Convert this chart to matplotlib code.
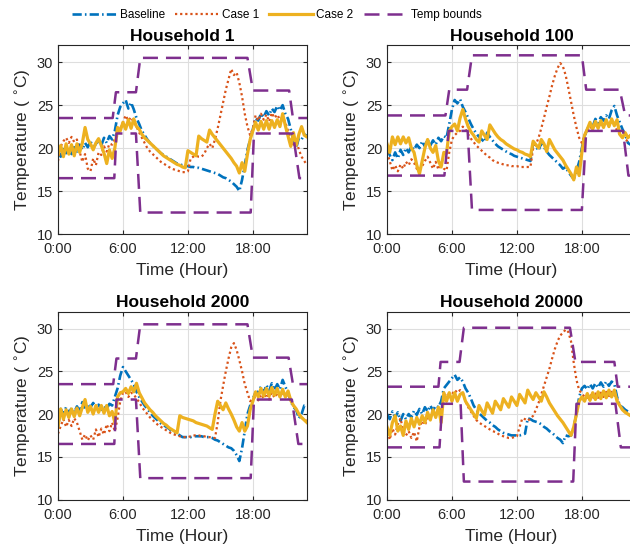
import numpy as np
import matplotlib
matplotlib.use("Agg")
import matplotlib.pyplot as plt

plt.rcParams['font.family'] = ['Liberation Sans', 'DejaVu Sans']

# ------------------------------------------------------------
# data: indoor temperature, one value every 15 min (0:00 .. 23:00)
# ------------------------------------------------------------
HOURS = np.arange(93) * 0.25
TITLES = ["Household 1", "Household 100", "Household 2000", "Household 20000"]
SERIES_NAMES = ["Baseline", "Case 1", "Case 2", "Temp bounds"]
XTICKS = [0, 6, 12, 18]
XTICK_LABELS = ["0:00", "6:00", "12:00", "18:00"]
YTICKS = [10, 15, 20, 25, 30]

# Household 1
P1_BASE = [19.5, 19.0, 20.2, 19.4, 20.0, 19.3, 20.1, 19.6, 20.4, 19.8, 20.6, 20.1,
           20.8, 20.0, 20.5, 20.9, 20.3, 21.2, 20.6, 21.4, 21.0, 22.0, 23.8, 24.8,
           25.2, 25.6, 24.6, 25.3, 24.5, 23.5, 22.8, 22.0, 21.5, 21.0, 20.6, 20.3,
           20.0, 19.7, 19.4, 19.2, 19.0, 18.8, 18.6, 18.4, 18.2, 18.1, 18.0, 17.9,
           17.9, 17.8, 17.8, 17.7, 17.7, 17.6, 17.5, 17.4, 17.3, 17.2, 17.1, 17.0,
           16.8, 16.6, 16.5, 16.3, 16.1, 15.8, 15.5, 15.0, 16.3, 18.0, 19.8, 21.0,
           22.2, 23.5, 23.2, 24.0, 23.6, 24.3, 23.8, 24.6, 24.2, 24.9, 24.4, 25.0,
           24.0, 23.4, 22.2, 20.8, 20.0, 21.2, 21.0, 21.6, 21.4]
P1_C1 = [18.5, 20.2, 20.8, 21.2, 20.6, 21.3, 20.7, 21.0, 19.6, 18.4, 19.3, 17.6,
         17.3, 18.8, 18.0, 19.5, 19.2, 20.2, 19.6, 20.5, 20.4, 21.0, 21.5, 22.3,
         23.0, 23.8, 23.2, 23.6, 23.0, 22.5, 21.8, 21.2, 20.6, 20.0, 19.6, 19.3,
         19.0, 18.7, 18.4, 18.2, 18.0, 17.8, 17.6, 17.5, 17.4, 17.3, 17.2, 17.2,
         17.3, 18.8, 19.0, 19.1, 19.0, 19.0, 19.3, 20.0, 20.5, 20.0, 21.0, 22.3,
         23.8, 25.3, 26.8, 28.0, 29.2, 28.5, 28.8, 27.6, 26.0, 24.0, 22.5, 21.5,
         22.3, 23.8, 23.2, 24.0, 23.3, 23.9, 23.1, 24.1, 23.5, 23.9, 23.3, 23.6,
         23.0, 22.0, 21.0, 20.4, 21.0, 19.8, 19.0, 18.5, 18.0]
P1_C2 = [19.2, 20.3, 19.0, 20.5, 19.3, 20.4, 19.1, 20.5, 19.5, 20.6, 22.4, 21.0,
         20.5, 19.8, 20.6, 21.1, 20.3, 19.4, 18.2, 19.8, 18.8, 20.0, 22.4, 22.0,
         23.0, 22.2, 23.3, 22.3, 23.4, 22.5, 22.2, 21.6, 21.2, 20.9, 20.6, 20.3,
         20.0, 19.7, 19.4, 19.1, 18.9, 18.7, 18.5, 18.3, 18.1, 18.0, 17.8, 17.7,
         19.7, 19.5, 19.3, 19.1, 21.4, 21.1, 20.9, 20.7, 22.1, 21.6, 21.2, 20.8,
         20.4, 20.0, 19.6, 19.2, 18.8, 18.3, 17.9, 17.1, 18.3, 17.3, 19.3, 21.0,
         22.0, 23.0, 22.1, 23.1, 22.2, 23.2, 22.2, 23.2, 22.4, 23.3, 22.5, 24.0,
         22.6, 21.4, 20.2, 21.8, 20.3, 21.6, 22.5, 21.5, 21.3]
P1_UB_T = [0, 5.05, 5.35, 7.2, 7.6, 17.5, 18.0, 21.35, 21.7, 23]
P1_UB_V = [23.5, 23.5, 26.5, 26.5, 30.5, 30.5, 26.7, 26.7, 23.5, 23.5]
P1_LB_T = [0, 5.2, 5.4, 7.2, 7.6, 17.8, 18.1, 21.7, 22.3, 23]
P1_LB_V = [16.5, 16.5, 21.7, 21.7, 12.5, 12.5, 21.7, 21.7, 16.5, 16.5]

# Household 100
P2_BASE = [20.0, 19.2, 18.6, 19.5, 18.8, 19.8, 19.2, 20.0, 19.5, 20.2, 19.8, 20.4,
           20.0, 20.8, 20.2, 21.0, 20.3, 20.9, 20.4, 21.2, 20.8, 21.4, 21.2, 22.8,
           24.5, 25.6, 25.2, 25.7, 24.8, 24.2, 23.5, 22.8, 22.2, 21.7, 21.3, 21.0,
           20.7, 21.8, 21.3, 20.9, 20.5, 20.2, 20.0, 19.8, 19.6, 19.4, 19.3, 19.1,
           19.0, 18.9, 18.8, 18.7, 18.6, 18.5, 20.6, 20.2, 19.7, 20.6, 20.1, 19.6,
           19.2, 18.9, 18.6, 18.3, 18.0, 17.6, 17.8, 17.2, 16.8, 16.4, 17.3, 18.4,
           20.0, 21.4, 22.2, 22.8, 22.5, 23.4, 22.9, 23.6, 23.2, 23.8, 23.4, 24.4,
           24.9, 23.8, 23.0, 22.2, 21.6, 20.6, 20.4, 20.2, 20.0]
P2_C1 = [19.5, 18.5, 17.4, 18.0, 17.3, 18.1, 17.6, 18.4, 18.0, 18.7, 18.3, 17.6,
         17.4, 17.9, 18.5, 19.0, 18.3, 17.6, 18.4, 17.5, 18.2, 17.6, 17.4, 19.5,
         21.0, 21.5, 21.8, 22.0, 22.5, 22.2, 21.6, 21.1, 20.7, 20.3, 20.0, 19.7,
         19.4, 19.1, 18.9, 18.6, 18.4, 18.3, 18.2, 18.1, 18.0, 18.0, 17.9, 17.9,
         17.9, 17.8, 17.8, 17.8, 17.8, 17.8, 20.0, 20.4, 21.2, 22.3, 23.5, 24.8,
         26.0, 27.3, 28.4, 29.3, 29.9, 29.5, 28.5, 27.0, 25.4, 23.8, 22.4, 21.2,
         20.6, 21.5, 22.0, 22.5, 22.2, 22.8, 22.4, 22.9, 22.5, 23.0, 22.6, 23.1,
         22.8, 22.0, 21.6, 21.3, 21.0, 20.8, 20.7, 20.5, 20.3]
P2_C2 = [20.5, 19.5, 21.3, 20.4, 21.3, 20.5, 21.3, 20.6, 21.2, 20.0, 19.5, 18.0,
         17.0, 18.5, 20.0, 21.0, 20.0, 19.5, 20.3, 18.5, 17.8, 19.5, 19.4, 22.0,
         22.5, 22.8, 22.0, 23.5, 24.5, 23.4, 22.5, 21.9, 21.5, 21.0, 20.7, 22.0,
         21.5, 21.0, 22.7, 22.2, 21.7, 21.3, 21.0, 20.8, 20.5, 20.3, 20.1, 19.9,
         19.8, 19.6, 19.5, 19.3, 19.2, 19.0, 20.8, 20.4, 20.0, 21.0, 20.5, 19.6,
         21.0, 20.4, 19.8, 19.4, 19.0, 18.6, 18.0, 17.5, 17.0, 16.3, 17.8, 16.8,
         19.5, 21.5, 22.2, 23.0, 22.2, 23.1, 22.3, 23.2, 22.4, 23.3, 22.5, 23.4,
         22.6, 23.3, 21.6, 21.2, 21.8, 21.2, 21.5, 21.0, 21.2]
P2_UB_T = [0, 5.4, 5.75, 7.4, 7.85, 18.0, 18.4, 21.5, 22.0, 23]
P2_UB_V = [23.8, 23.8, 26.8, 26.8, 30.8, 30.8, 26.8, 26.8, 23.8, 23.8]
P2_LB_T = [0, 5.3, 5.7, 7.45, 7.85, 18.0, 18.4, 21.8, 22.3, 23]
P2_LB_V = [16.8, 16.8, 22.0, 22.0, 12.8, 12.8, 22.0, 22.0, 16.8, 16.8]

# Household 2000
P3_BASE = [18.5, 20.6, 20.0, 20.8, 20.1, 20.7, 20.2, 20.9, 20.3, 21.4, 20.6, 21.2,
           20.8, 21.3, 20.7, 21.1, 20.5, 21.0, 20.6, 21.2, 21.0, 22.0, 23.0, 24.5,
           25.5, 25.0, 24.5, 24.0, 23.5, 22.6, 22.0, 21.5, 21.0, 20.6, 20.2, 19.8,
           19.5, 19.2, 18.9, 18.7, 18.5, 18.3, 18.0, 17.9, 17.7, 17.5, 17.3, 17.3,
           17.3, 17.3, 17.4, 17.4, 17.4, 17.4, 17.3, 17.3, 17.3, 17.2, 17.0, 16.9,
           16.7, 16.5, 16.3, 16.1, 16.0, 15.7, 15.2, 14.5, 16.0, 18.0, 20.0, 21.0,
           21.8, 22.5, 22.6, 23.2, 22.5, 23.4, 22.7, 23.6, 22.8, 23.5, 22.9, 24.0,
           23.2, 22.5, 21.5, 20.8, 20.5, 19.5, 20.0, 21.0, 21.0]
P3_C1 = [17.7, 18.6, 19.4, 18.5, 19.3, 18.6, 19.5, 19.0, 18.0, 17.0, 17.6, 16.9,
         17.5, 17.0, 18.2, 17.3, 18.3, 17.6, 18.8, 18.0, 19.0, 18.0, 19.5, 21.5,
         22.5, 22.6, 22.0, 22.5, 22.3, 21.8, 21.4, 20.8, 20.4, 20.0, 19.6, 19.3,
         19.0, 18.7, 18.5, 18.3, 18.1, 17.9, 17.7, 17.6, 17.5, 17.4, 17.3, 17.3,
         17.3, 17.4, 17.5, 17.5, 17.5, 17.4, 17.4, 17.3, 17.3, 17.2, 17.2, 19.0,
         21.5, 23.3, 25.0, 26.5, 27.8, 28.3, 27.5, 26.3, 25.0, 23.5, 22.5, 21.5,
         21.8, 22.0, 21.6, 22.3, 21.8, 22.4, 21.7, 22.5, 21.9, 22.5, 22.0, 22.6,
         22.0, 22.3, 21.8, 21.0, 20.5, 20.0, 19.6, 19.3, 19.2]
P3_C2 = [18.5, 20.6, 19.4, 20.5, 19.6, 20.6, 19.7, 20.7, 19.8, 20.8, 21.7, 20.2,
         20.9, 20.0, 21.0, 20.2, 21.0, 20.1, 21.0, 19.8, 20.3, 19.0, 22.0, 22.5,
         22.6, 23.0, 22.4, 23.2, 22.6, 23.6, 22.5, 21.9, 21.3, 20.9, 20.5, 20.2,
         19.8, 19.5, 19.2, 18.9, 18.7, 18.4, 18.2, 18.0, 17.8, 19.8, 19.6, 19.5,
         19.4, 19.3, 19.2, 19.0, 18.9, 18.8, 18.7, 18.6, 18.4, 18.2, 20.0, 21.5,
         21.0, 20.5, 21.3, 20.6, 20.0, 19.3, 18.5, 18.0, 19.0, 18.0, 18.6, 20.5,
         21.5, 22.6, 22.0, 23.0, 22.1, 23.0, 22.1, 23.1, 22.2, 23.0, 22.0, 22.9,
         22.0, 22.7, 21.6, 21.0, 20.6, 20.0, 19.6, 19.3, 19.0]
P3_UB_T = [0, 5.1, 5.4, 7.2, 7.6, 17.5, 18.0, 21.3, 21.7, 23]
P3_UB_V = [23.5, 23.5, 26.5, 26.5, 30.5, 30.5, 26.6, 26.6, 23.5, 23.5]
P3_LB_T = [0, 5.2, 5.4, 7.2, 7.6, 17.8, 18.1, 21.6, 22.2, 23]
P3_LB_V = [16.5, 16.5, 21.7, 21.7, 12.5, 12.5, 21.7, 21.7, 16.5, 16.5]

# Household 20000
P4_BASE = [20.0, 19.4, 20.3, 19.6, 20.2, 19.2, 20.0, 19.4, 20.0, 19.6, 20.4, 19.9,
           20.6, 20.0, 20.8, 20.3, 21.0, 20.4, 21.0, 20.8, 21.5, 23.0, 23.4, 23.8,
           24.2, 24.6, 24.0, 24.3, 23.8, 23.0, 22.5, 21.8, 21.0, 20.5, 20.1, 19.8,
           19.5, 19.2, 19.0, 18.7, 18.5, 18.2, 18.0, 17.8, 17.7, 17.6, 17.5, 17.5,
           17.5, 17.5, 17.6, 17.7, 19.5, 19.4, 19.2, 19.1, 19.0, 18.8, 18.5, 18.3,
           18.0, 17.8, 17.5, 17.2, 17.0, 16.6, 17.5, 17.4, 17.5, 18.5, 20.0, 22.0,
           23.0, 23.3, 22.9, 23.5, 23.0, 23.6, 23.1, 23.7, 23.2, 23.8, 23.3, 23.8,
           23.5, 22.0, 21.0, 20.8, 20.5, 20.3, 20.2, 20.0, 20.0]
P4_C1 = [18.5, 17.0, 18.3, 17.6, 18.8, 19.5, 18.0, 17.5, 18.0, 17.2, 17.9, 16.8,
         18.5, 19.2, 18.7, 19.5, 19.6, 20.4, 19.8, 20.5, 20.5, 22.0, 22.5, 22.3,
         22.3, 22.8, 22.5, 22.8, 22.5, 21.5, 20.8, 20.3, 19.8, 19.3, 19.0, 18.8,
         18.6, 18.4, 18.2, 18.0, 17.9, 17.7, 17.5, 17.4, 17.3, 17.2, 17.2, 17.3,
         17.4, 18.5, 19.5, 19.4, 19.2, 19.5, 19.8, 20.5, 21.3, 22.3, 23.3, 24.3,
         25.3, 26.5, 27.6, 28.5, 29.2, 29.5, 29.9, 29.6, 28.5, 26.0, 24.0, 22.8,
         22.4, 22.0, 21.9, 22.3, 21.8, 22.4, 21.9, 22.5, 22.0, 22.6, 22.1, 22.6,
         22.2, 21.8, 21.0, 20.5, 20.3, 20.0, 19.8, 19.6, 19.5]
P4_C2 = [18.5, 17.5, 19.0, 19.8, 18.0, 18.6, 17.5, 19.2, 18.2, 19.5, 18.5, 19.6,
         18.8, 19.8, 19.0, 20.2, 19.3, 20.5, 19.6, 20.8, 19.0, 22.5, 21.5, 22.5,
         21.5, 22.5, 21.5, 22.3, 22.5, 21.5, 21.0, 20.5, 20.0, 19.5, 21.0, 20.4,
         19.9, 21.3, 20.7, 20.1, 21.5, 21.0, 20.5, 21.8, 21.3, 20.8, 22.0, 21.5,
         21.0, 22.3, 21.8, 21.3, 22.8, 22.2, 21.7, 22.5, 22.0, 21.5, 22.6, 22.0,
         21.3, 20.8, 20.3, 19.8, 19.4, 19.0, 18.5, 18.0, 17.5, 18.5, 20.0, 21.5,
         22.0, 21.5, 22.4, 21.6, 22.5, 21.7, 22.6, 21.8, 22.7, 21.9, 22.8, 22.0,
         22.8, 21.5, 21.0, 20.5, 20.2, 20.0, 19.8, 19.6, 19.5]
P4_UB_T = [0, 4.75, 4.95, 6.7, 7.1, 16.9, 17.4, 21.0, 21.3, 23]
P4_UB_V = [23.2, 23.2, 26.1, 26.1, 30.1, 30.1, 26.1, 26.1, 23.2, 23.2]
P4_LB_T = [0, 4.85, 5.1, 6.8, 7.1, 17.2, 17.5, 21.1, 21.6, 23]
P4_LB_V = [16.1, 16.1, 21.2, 21.2, 12.1, 12.1, 21.2, 21.2, 16.1, 16.1]

PANELS = [
    (P1_BASE, P1_C1, P1_C2, P1_UB_T, P1_UB_V, P1_LB_T, P1_LB_V),
    (P2_BASE, P2_C1, P2_C2, P2_UB_T, P2_UB_V, P2_LB_T, P2_LB_V),
    (P3_BASE, P3_C1, P3_C2, P3_UB_T, P3_UB_V, P3_LB_T, P3_LB_V),
    (P4_BASE, P4_C1, P4_C2, P4_UB_T, P4_UB_V, P4_LB_T, P4_LB_V),
]

# MATLAB default colours
C_BLUE, C_RED, C_YEL, C_PUR = "#0072BD", "#D95319", "#EDB120", "#7E2F8E"
INK = "#262626"

# ------------------------------------------------------------
# layout (pixels in a 630x550 canvas -> figure fractions)
# ------------------------------------------------------------
W, H = 630, 550
BOXES = [(58, 45, 249, 189), (387, 45, 249, 189),
         (58, 311.5, 249, 188), (387, 311.5, 249, 188)]

fig = plt.figure(figsize=(W / 100, H / 100), dpi=100)

handles = None
for k, (left, top, w, h) in enumerate(BOXES):
    ax = fig.add_axes([left / W, 1 - (top + h) / H, w / W, h / H])
    base, c1, c2, ub_t, ub_v, lb_t, lb_v = PANELS[k]

    l1, = ax.plot(HOURS, base, color=C_BLUE, lw=1.9, dashes=(3.5, 1.2, 0.6, 1.2))
    l2, = ax.plot(HOURS, c1, color=C_RED, lw=1.6, dashes=(1.0, 1.3))
    l3, = ax.plot(HOURS, c2, color=C_YEL, lw=2.3)
    l4, = ax.plot(ub_t, ub_v, color=C_PUR, lw=1.8, dashes=(6, 3.2))
    ax.plot(lb_t, lb_v, color=C_PUR, lw=1.8, dashes=(6, 3.2))
    if handles is None:
        handles = [l1, l2, l3, l4]

    ax.set_xlim(0, 23)
    ax.set_ylim(10, 32)
    ax.set_xticks(XTICKS)
    ax.set_xticklabels(XTICK_LABELS)
    ax.set_yticks(YTICKS)
    ax.grid(True, color="#dedede", lw=0.8)
    ax.set_axisbelow(True)
    ax.tick_params(direction="in", length=3, top=True, right=True,
                   labelsize=10.5, colors=INK)
    ax.tick_params(axis="x", pad=6)
    ax.tick_params(axis="y", pad=3.5)
    for sp in ax.spines.values():
        sp.set_color(INK)
        sp.set_linewidth(0.8)
    ax.set_title(TITLES[k], fontsize=12.5, fontweight="bold", pad=3, color="black")
    ax.set_xlabel("Time (Hour)", fontsize=12.5, color=INK, labelpad=5)
    ax.set_ylabel("Temperature ( $^{\\circ}$C)", fontsize=12.5, color=INK, labelpad=3)

fig.legend(handles, SERIES_NAMES, loc="center", bbox_to_anchor=(277 / W, 1 - 15 / H),
           ncol=4, frameon=False, fontsize=8.5, handlelength=3.7,
           handletextpad=0.3, columnspacing=0.85)

fig.savefig("out.png", dpi=100)
